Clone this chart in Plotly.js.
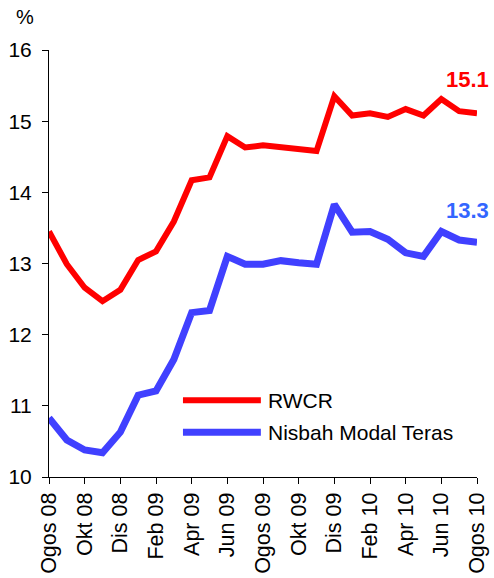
<!DOCTYPE html>
<html>
<head>
<meta charset="utf-8">
<script src="https://cdn.plot.ly/plotly-3.0.1.min.js"></script>
<style>html,body{margin:0;padding:0;background:#fff;}#chart{width:494px;height:578px;}</style>
</head>
<body>
<div id="chart"></div>
<script>
const months = ["Ogos 08","Sep 08","Okt 08","Nov 08","Dis 08","Jan 09","Feb 09","Mac 09","Apr 09","Mei 09","Jun 09","Jul 09",
  "Ogos 09","Sep 09","Okt 09","Nov 09","Dis 09","Jan 10","Feb 10","Mac 10","Apr 10","Mei 10","Jun 10","Jul 10","Ogos 10"];
const tickLabels = ["Ogos 08","Okt 08","Dis 08","Feb 09","Apr 09","Jun 09","Ogos 09","Okt 09","Dis 09","Feb 10","Apr 10","Jun 10","Ogos 10"];
const rwcr = [13.45,12.99,12.66,12.47,12.63,13.05,13.17,13.59,14.17,14.21,14.79,14.63,
  14.66,14.63,14.61,14.58,15.35,15.08,15.11,15.06,15.17,15.08,15.31,15.14,15.11];
const teras = [10.83,10.52,10.38,10.34,10.63,11.15,11.21,11.65,12.31,12.34,13.10,12.99,
  12.99,13.04,13.01,12.99,13.83,13.44,13.45,13.34,13.15,13.10,13.45,13.33,13.30];
const seriesNames = ["RWCR","Nisbah Modal Teras"];
const endLabels = ["15.1","13.3"];

const font = "Liberation Sans, Arial, sans-serif";
const red = "#FF0000", blue = "#4040FF", blueLabel = "#3366FF";
const colors = [red, blue];
const widths = [6, 7];

const traces = [
  {x: months, y: rwcr, name: seriesNames[0], mode: "lines", line: {color: red, width: 6}, showlegend: false},
  {x: months, y: teras, name: seriesNames[1], mode: "lines", line: {color: blue, width: 7}, showlegend: false}
];

// custom legend (paper coordinates)
const legendY = [0.180, 0.105];
const shapes = seriesNames.map((n, i) => ({
  type: "line", xref: "paper", yref: "paper", x0: 0.313, x1: 0.495, y0: legendY[i], y1: legendY[i],
  line: {color: colors[i], width: widths[i]}
}));
const legendAnn = seriesNames.map((n, i) => ({
  xref: "paper", yref: "paper", x: 0.507, y: legendY[i], text: n, showarrow: false,
  xanchor: "left", yanchor: "middle", font: {family: font, size: 21, color: "#000"}
}));

const layout = {
  width: 494, height: 578,
  margin: {l: 49, r: 17, t: 50, b: 101},
  paper_bgcolor: "#fff", plot_bgcolor: "#fff",
  font: {family: font, color: "#000", size: 20},
  showlegend: false,
  xaxis: {
    type: "category", categoryorder: "array", categoryarray: months,
    range: [0, months.length - 1],
    tickmode: "array", tickvals: tickLabels, ticktext: tickLabels,
    tickangle: -90, ticks: "outside", ticklen: 6, tickcolor: "#000",
    showline: true, linecolor: "#000", linewidth: 1,
    showgrid: false, zeroline: false,
    tickfont: {family: font, size: 21.5, color: "#000"}
  },
  yaxis: {
    range: [10, 16], dtick: 1, tick0: 10,
    ticks: "outside", ticklen: 6, tickcolor: "#000",
    showline: true, linecolor: "#000", linewidth: 1,
    showgrid: false, zeroline: false,
    tickfont: {family: font, size: 21, color: "#000"},
    ticklabelstandoff: 6
  },
  shapes: shapes,
  annotations: [
    {x: months[months.length-1], y: rwcr[rwcr.length-1], text: endLabels[0], showarrow: false,
     xanchor: "center", yanchor: "middle", xshift: -10, yshift: 34,
     font: {family: font, size: 22, color: red, weight: "bold"}},
    {x: months[months.length-1], y: teras[teras.length-1], text: endLabels[1], showarrow: false,
     xanchor: "center", yanchor: "middle", xshift: -10, yshift: 32,
     font: {family: font, size: 22, color: blueLabel, weight: "bold"}},
    {xref: "paper", yref: "paper", x: -0.056, y: 1.077, text: "%", showarrow: false,
     xanchor: "center", yanchor: "middle", font: {family: font, size: 20, color: "#000"}}
  ].concat(legendAnn)
};

Plotly.newPlot("chart", traces, layout, {displayModeBar: false, staticPlot: true});
</script>
</body>
</html>
